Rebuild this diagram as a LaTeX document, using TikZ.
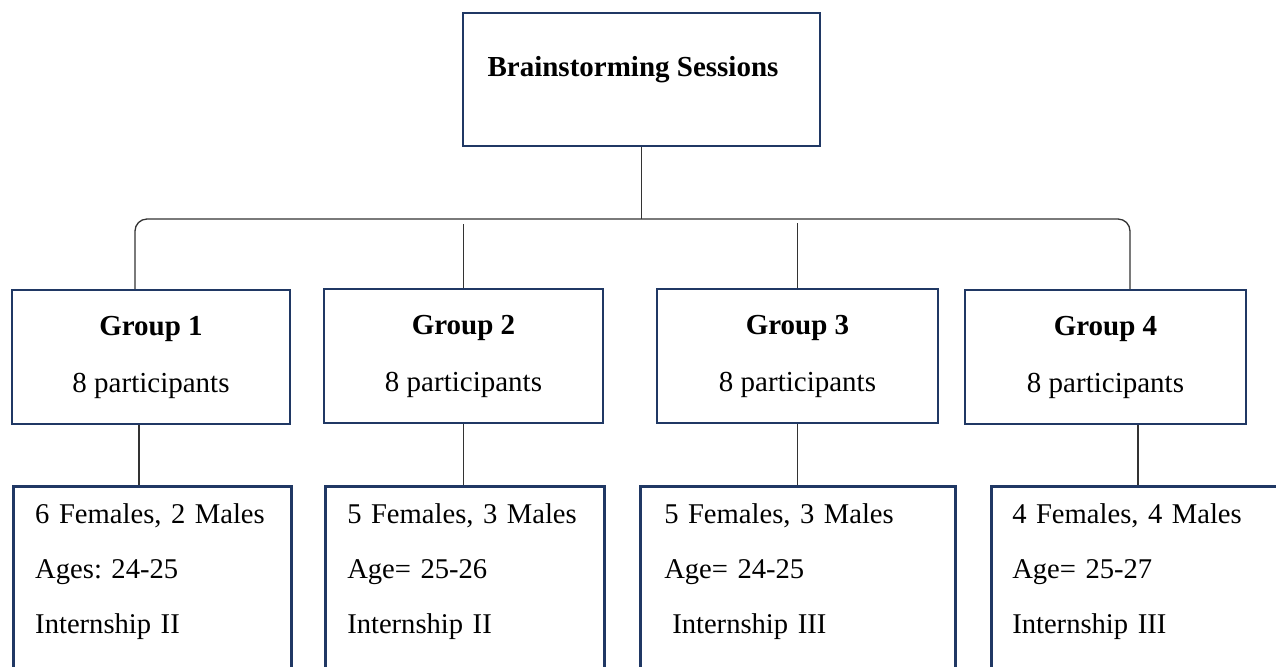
\documentclass[tikz,border=0pt]{standalone}
\usepackage{fontspec}
\setmainfont{Liberation Serif}
\usepackage{tikz}

\definecolor{boxnavy}{HTML}{203864}
\definecolor{linegray}{HTML}{333333}

\begin{document}
\frenchspacing
\begin{tikzpicture}[x=0.5pt,y=-0.5pt,
    box/.style={draw=boxnavy,line width=1.25pt,rectangle,inner sep=0pt,
        font=\fontsize{14.5}{28.5}\selectfont},
    grp/.style={box,minimum width=#1,minimum height=67pt,align=center},
    info/.style={box,anchor=north west,text width=#1,inner xsep=11pt,inner ysep=8.5pt,
        align=left,font=\fontsize{14.3}{27.5}\selectfont},
    conn/.style={draw=linegray,line width=0.65pt}]
    \useasboundingbox (0,0) rectangle (1276,666);
    \clip (0,0) rectangle (1276,666);

    % top box
    \node[box,minimum width=178.5pt,minimum height=66.5pt] (brain) at (641.5,79.5) {};
    \node[font=\fontsize{14.5}{17}\selectfont\bfseries] (brainlbl) at (633,70) {Brainstorming Sessions};

    % the four groups
    \foreach \n/\x/\y/\w in {1/151/357/139pt, 2/463.5/356/139.5pt, 3/797.5/356/140.5pt, 4/1105.5/357/140.5pt}{
        \node[grp=\w] (g\n) at (\x,\y) {\textbf{Group \n}\\8 participants};
    }

    % details, cut off at the bottom
    \node[info=117pt,inner xsep=11pt] (d1) at (12,485) {6 Females, 2 Males\\Ages: 24-25\\Internship II\\\strut};
    \node[info=117.5pt] (d2) at (324,485) {5 Females, 3 Males\\Age= 25-26\\Internship II\\\strut};
    \node[info=135.5pt] (d3) at (639,485) {\hspace{1pt}5 Females, 3 Males\\\hspace{1pt}Age= 24-25\\\hspace{5pt}Internship III\\\strut};
    \node[info=138pt,inner xsep=10.5pt] (d4) at (990,485) {4 Females, 4 Males\\Age= 25-27\\Internship III\\\strut};

    % connectors
    \coordinate (busL) at (135,219);
    \coordinate (busR) at (1130,219);
    \draw[conn] (brain.south) -- (brain.south |- busL);
    \draw[conn,rounded corners=6pt] (g1.north -| busL) |- (busR) -- (g4.north -| busR);
    \draw[conn] (g2.north) -- ([yshift=-2.5pt]g2.north |- busL);
    \draw[conn] (g3.north) -- ([yshift=-2pt]g3.north |- busL);

    \draw[conn] ([xshift=-6pt]g1.south) -- ([xshift=-6pt]g1.south |- d1.north);
    \draw[conn] (g2.south) -- (g2.south |- d2.north);
    \draw[conn] (g3.south) -- (g3.south |- d3.north);
    \draw[conn] ([xshift=16.25pt]g4.south) -- ([xshift=16.25pt]g4.south |- d4.north);
\end{tikzpicture}
\end{document}
